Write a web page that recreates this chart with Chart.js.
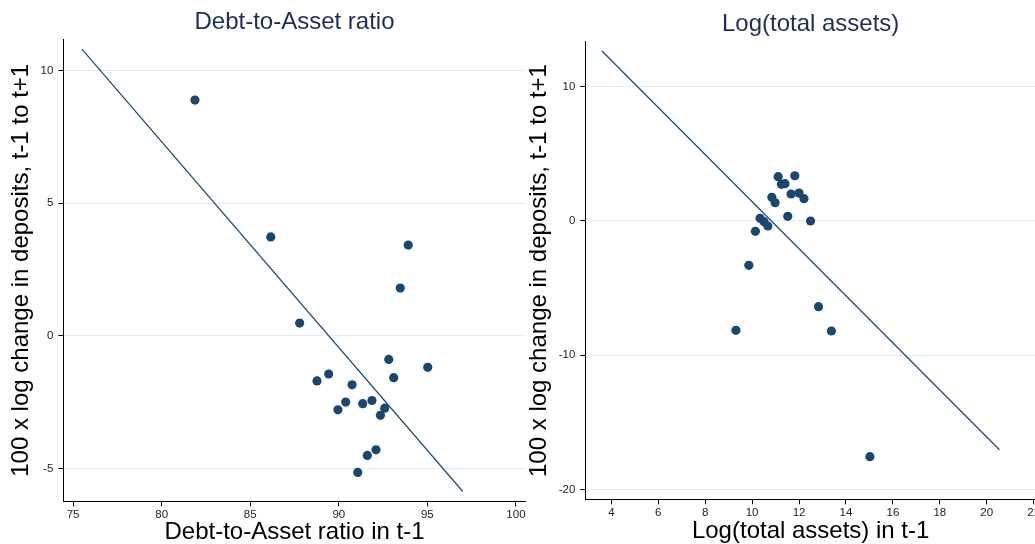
<!DOCTYPE html>
<html>
<head>
<meta charset="utf-8">
<script src="https://cdn.jsdelivr.net/npm/chart.js@4/dist/chart.umd.min.js"></script>
<style>
  html, body { margin: 0; padding: 0; background: #fff; overflow: hidden; }
  body { width: 1035px; height: 544px; position: relative; }
  .panel { position: absolute; top: 0; height: 544px; }
  #leftBox { left: 0; width: 545px; }
  #rightBox { left: 520px; width: 540px; }
</style>
</head>
<body>
<div class="panel" id="leftBox"><canvas id="leftChart" width="545" height="544"></canvas></div>
<div class="panel" id="rightBox"><canvas id="rightChart" width="540" height="544"></canvas></div>
<script>
// Panel 1: debt-to-asset ratio
const debtRatio = [81.88, 86.16, 93.92, 93.47, 87.79, 92.82, 95.02, 88.77, 89.43, 93.10,
  90.75, 90.39, 89.95, 91.35, 91.87, 92.59, 92.35, 92.10, 91.61, 91.07];
const depositChgA = [8.89, 3.73, 3.42, 1.80, 0.48, -0.89, -1.19, -1.70, -1.44, -1.58,
  -1.85, -2.50, -2.79, -2.56, -2.44, -2.73, -3.00, -4.30, -4.51, -5.15];
const fitXA = [75.5, 97.0];
const fitYA = [10.81, -5.87];
const xTicksA = [75, 80, 85, 90, 95, 100];
const yTicksA = [-5, 0, 5, 10];

// Panel 2: log total assets
const logAssets = [11.11, 11.82, 11.25, 11.40, 11.66, 12.00, 12.21, 10.84, 10.98, 11.52,
  12.49, 10.34, 10.51, 10.67, 10.14, 9.86, 12.83, 9.31, 13.38, 15.02];
const depositChgB = [3.28, 3.35, 2.71, 2.76, 1.99, 2.06, 1.64, 1.74, 1.34, 0.33,
  -0.02, 0.18, -0.07, -0.39, -0.79, -3.32, -6.40, -8.16, -8.21, -17.57];
const fitXB = [3.60, 20.54];
const fitYB = [12.64, -17.05];
const xTicksB = [4, 6, 8, 10, 12, 14, 16, 18, 20, 22];
const yTicksB = [-20, -10, 0, 10];

const yTitle = '100 x log change in deposits, t-1 to t+1';
const navy = '#1a476f';
const FONT = "'Liberation Sans', Arial, sans-serif";

function toPoints(xs, ys) {
  return xs.map((x, i) => ({ x: x, y: ys[i] }));
}

function makeChart(id, cfg) {
  new Chart(document.getElementById(id), {
    type: 'scatter',
    data: {
      datasets: [
        {
          data: toPoints(cfg.xs, cfg.ys),
          backgroundColor: navy,
          borderWidth: 0,
          pointRadius: 4.6,
          pointHoverRadius: 4.6
        },
        {
          data: toPoints(cfg.fitX, cfg.fitY),
          showLine: true,
          borderColor: navy,
          borderWidth: 1.2,
          pointRadius: 0,
          fill: false
        }
      ]
    },
    options: {
      responsive: false,
      animation: false,
      events: [],
      layout: { padding: { left: 0, top: 0, bottom: 0, right: cfg.padRight } },
      plugins: {
        legend: { display: false },
        tooltip: { enabled: false },
        title: {
          display: true,
          text: cfg.title,
          fullSize: false,
          color: '#1e2d57',
          font: { family: FONT, size: 24, weight: 'normal', lineHeight: 1 },
          padding: { top: cfg.titleTop, bottom: cfg.titleBottom }
        }
      },
      scales: {
        x: {
          type: 'linear',
          min: cfg.xMin,
          max: cfg.xMax,
          afterBuildTicks: s => { s.ticks = cfg.xTicks.map(v => ({ value: v })); },
          afterFit: s => { s.height = cfg.xAxisH; },
          border: { display: true, color: '#000', width: 1 },
          grid: { drawOnChartArea: false, drawTicks: true, tickLength: 5, tickColor: '#000' },
          ticks: { color: '#222', padding: 2, maxRotation: 0, font: { family: FONT, size: 11.5 } },
          title: {
            display: true,
            text: cfg.xTitle,
            color: '#000',
            font: { family: FONT, size: 24, lineHeight: 1 },
            padding: { top: 0, bottom: cfg.xTitleBottom }
          }
        },
        y: {
          type: 'linear',
          min: cfg.yMin,
          max: cfg.yMax,
          afterBuildTicks: s => { s.ticks = cfg.yTicks.map(v => ({ value: v })); },
          afterFit: s => { s.width = cfg.yAxisW; },
          border: { display: true, color: '#000', width: 1 },
          grid: { color: '#e4eced', lineWidth: 1, drawTicks: true, tickLength: 5, tickColor: '#000' },
          ticks: { color: '#222', padding: 5, font: { family: FONT, size: 11.5 } },
          title: {
            display: true,
            text: yTitle,
            color: '#000',
            font: { family: FONT, size: 24, lineHeight: 1 },
            padding: { top: cfg.yTitleLeft, bottom: 0 }
          }
        }
      }
    }
  });
}

makeChart('leftChart', {
  xs: debtRatio, ys: depositChgA, fitX: fitXA, fitY: fitYA,
  xTicks: xTicksA, yTicks: yTicksA,
  xMin: 74.45, xMax: 100.55, yMin: -6.24, yMax: 11.18,
  title: 'Debt-to-Asset ratio', xTitle: 'Debt-to-Asset ratio in t-1',
  padRight: 19.3, titleTop: 10, titleBottom: 5.3,
  xAxisH: 42.7, xTitleBottom: 0, yAxisW: 63.3, yTitleLeft: 9
});

makeChart('rightChart', {
  xs: logAssets, ys: depositChgB, fitX: fitXB, fitY: fitYB,
  xTicks: xTicksB, yTicks: yTicksB,
  xMin: 2.89, xMax: 22.1, yMin: -20.74, yMax: 13.33,
  title: 'Log(total assets)', xTitle: 'Log(total assets) in t-1',
  padRight: 24, titleTop: 12.5, titleBottom: 5.2,
  xAxisH: 44.7, xTitleBottom: 1, yAxisW: 65.3, yTitleLeft: 7
});
</script>
</body>
</html>
